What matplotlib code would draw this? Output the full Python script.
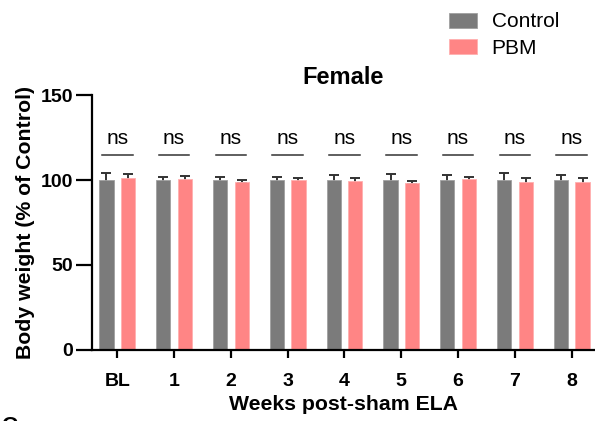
import matplotlib.pyplot as plt
import numpy as np

plt.rcParams['font.family'] = ['Liberation Sans', 'DejaVu Sans']

weeks = ['BL', '1', '2', '3', '4', '5', '6', '7', '8']
control = [100, 100, 100, 100, 100, 100, 100, 100, 100]
control_err = [4, 2, 2, 2, 3, 3.5, 3, 4, 3]
pbm = [101.5, 100.5, 99, 100, 99.5, 98.5, 100.5, 99, 99]
pbm_err = [2, 2, 1, 1, 1.5, 1, 1.5, 2.5, 2]
sig = ['ns'] * 9

c_gray = '#7b7b7b'
c_pink = '#ff8585'

fig = plt.figure(figsize=(5.95, 4.21), dpi=100)
ax = fig.add_axes([0.1546, 0.169, 0.8454, 0.605])

x = np.arange(len(weeks))
w = 0.25
off = 0.19
ax.bar(x - off, control, w, color=c_gray, edgecolor='#a0a0a0', linewidth=0.6,
       label='Control', zorder=2)
ax.bar(x + off, pbm, w, color=c_pink, edgecolor='#ffb0b0', linewidth=0.6,
       label='PBM', zorder=2)
# errorbars sit behind the bars so only the upper half shows
ax.errorbar(x - off, control, yerr=control_err, fmt='none',
            ecolor='#333333', elinewidth=1.4, capsize=3.5, capthick=1.4, zorder=1)
ax.errorbar(x + off, pbm, yerr=pbm_err, fmt='none',
            ecolor='#333333', elinewidth=1.4, capsize=3.5, capthick=1.4, zorder=1)

# significance marks
for i, s in enumerate(sig):
    ax.plot([i - off - 0.08, i + off + 0.08], [115, 115], color='#333333', lw=1.1)
    ax.text(i, 119, s, ha='center', va='bottom', fontsize=15)

ax.set_xlim(-0.445, 8.41)
ax.set_ylim(0, 150)
ax.set_yticks([0, 50, 100, 150])
ax.set_xticks(x)
ax.set_xticklabels(weeks)
for lab in ax.get_xticklabels() + ax.get_yticklabels():
    lab.set_fontweight('bold')
    lab.set_fontsize(14)

ax.spines['top'].set_visible(False)
ax.spines['right'].set_visible(False)
ax.spines['left'].set_linewidth(1.6)
ax.spines['bottom'].set_linewidth(1.6)
ax.tick_params(axis='y', length=11.5, width=1.6, pad=2)
ax.tick_params(axis='x', length=6, width=1.6, pad=11)

ax.set_title('Female', fontsize=17, fontweight='bold', pad=8)
ax.set_xlabel('Weeks post-sham ELA', fontsize=15.3, fontweight='bold', labelpad=3)
ax.set_ylabel('Body weight (% of Control)', fontsize=15.3, fontweight='bold', labelpad=4)

fig.legend(loc='upper left', bbox_to_anchor=(0.723, 1.015), frameon=False,
           fontsize=15, handlelength=1.35, handleheight=0.75, handletextpad=0.7,
           labelspacing=0.35)

fig.text(0.002, -0.012, 'C', fontsize=16, fontweight='bold', va='center')

fig.savefig('out.png', dpi=100)
